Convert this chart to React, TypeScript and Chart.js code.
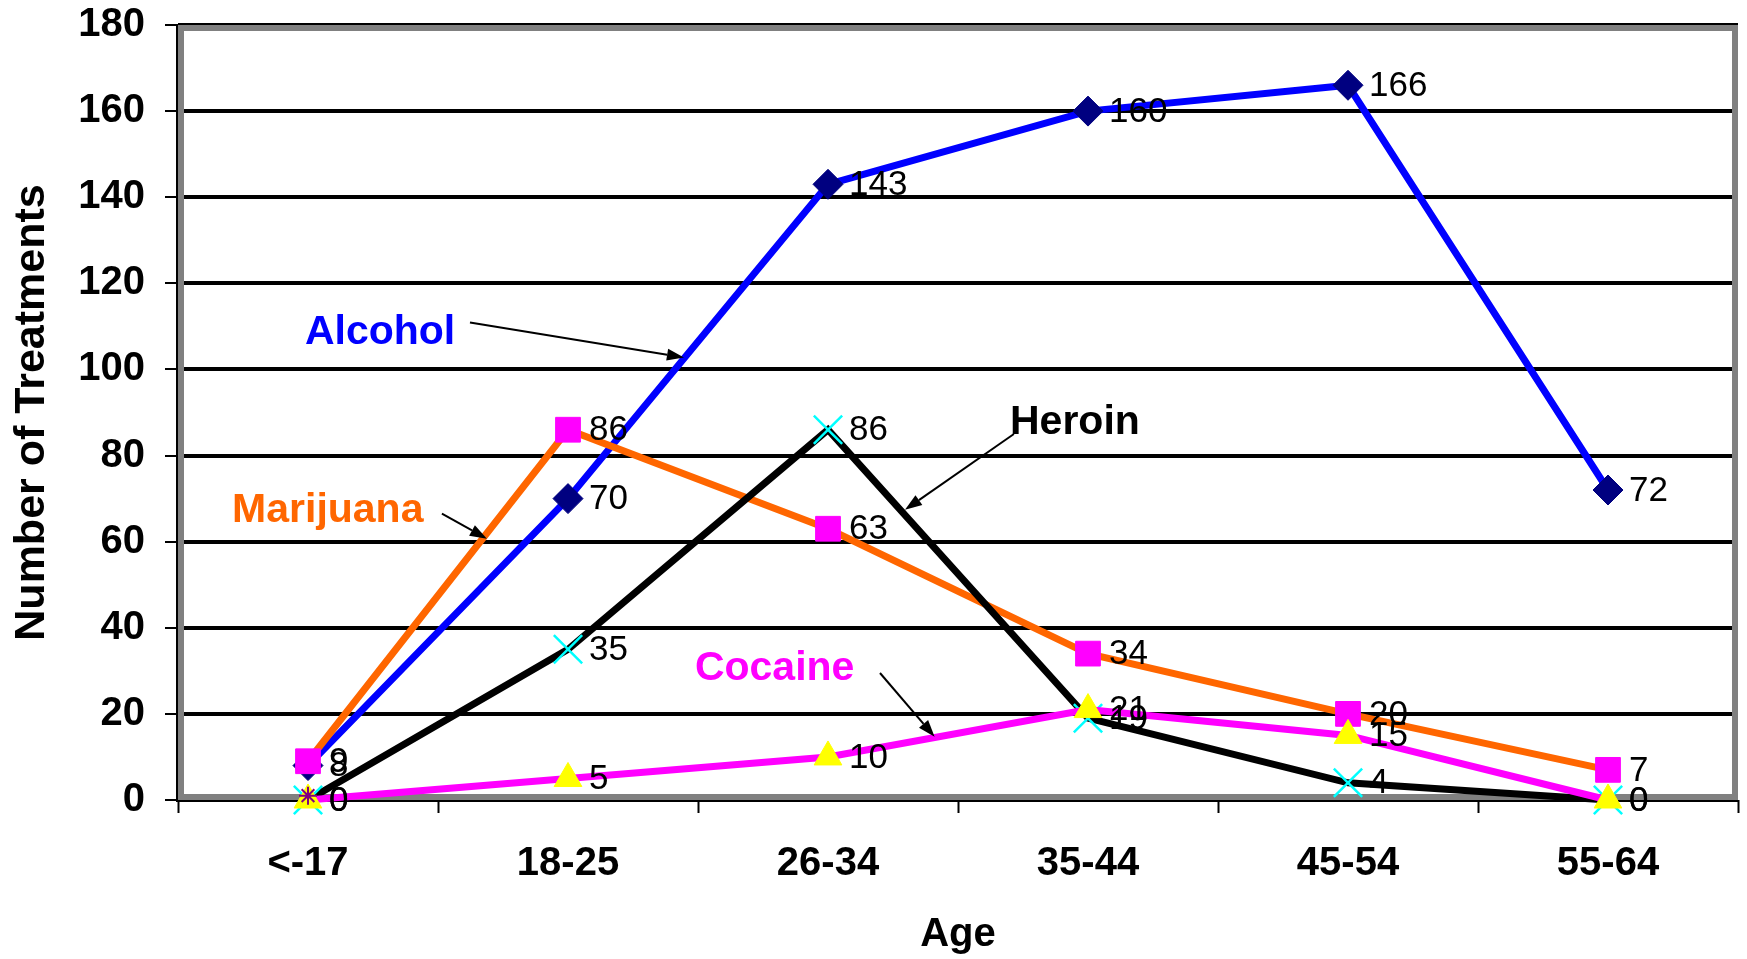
import React, { useEffect, useRef } from "react";
import { Chart, registerables } from "chart.js";

Chart.register(...registerables);

// ---- data ----
const ageGroups = ["<-17", "18-25", "26-34", "35-44", "45-54", "55-64"];
const alcohol = [8, 70, 143, 160, 166, 72];
const marijuana = [9, 86, 63, 34, 20, 7];
const heroin = [0, 35, 86, 19, 4, 0];
const cocaine = [0, 5, 10, 21, 15, 0];
const other: (number | null)[] = [1, null, null, null, null, null];
const yMin = 0;
const yMax = 180;
const yStep = 20;
const xTitle = "Age";
const yTitle = "Number of Treatments";

// annotation callouts (data coordinates: category index, value)
const calloutNames = ["Alcohol", "Marijuana", "Heroin", "Cocaine"];
const calloutColors = ["#0000FF", "#FF6600", "#000000", "#FF00FF"];
const calloutTextAt = [
  [-0.012, 108.6],
  [-0.292, 67.2],
  [2.7, 87.6],
  [1.488, 30.5],
];
const calloutArrowFrom = [
  [0.623, 110.9],
  [0.515, 66.5],
  [2.715, 85],
  [2.2, 29.5],
];
const calloutArrowTo = [
  [1.446, 102.8],
  [0.688, 60.7],
  [2.296, 67.4],
  [2.41, 14.7],
];

const SANS = "'Liberation Sans', Arial, Helvetica, sans-serif";

const framePlugin = {
  id: "frame",
  beforeDatasetsDraw(chart: any) {
    const { ctx, chartArea: a } = chart;
    ctx.save();
    ctx.strokeStyle = "#808080";
    ctx.lineWidth = 6;
    ctx.strokeRect(a.left + 3, a.top + 3, a.right - a.left - 6, a.bottom - a.top - 6);
    ctx.strokeStyle = "#000000";
    ctx.lineWidth = 2;
    ctx.beginPath();
    ctx.moveTo(a.left - 1, a.top - 1);
    ctx.lineTo(a.left - 1, a.bottom + 1);
    ctx.lineTo(a.right, a.bottom + 1);
    ctx.stroke();
    ctx.restore();
  },
};

const valueLabelPlugin = {
  id: "valueLabels",
  afterDatasetsDraw(chart: any) {
    const { ctx } = chart;
    ctx.save();
    ctx.font = `35px ${SANS}`;
    ctx.fillStyle = "#000000";
    ctx.textAlign = "left";
    ctx.textBaseline = "middle";
    chart.data.datasets.forEach((ds: any, i: number) => {
      if (!ds.showValues) return;
      const meta = chart.getDatasetMeta(i);
      meta.data.forEach((el: any, j: number) => {
        const v = ds.data[j];
        if (v === null || v === undefined) return;
        ctx.fillText(String(v), el.x + 21, el.y + 1);
      });
    });
    ctx.restore();
  },
};

const calloutPlugin = {
  id: "callouts",
  afterDraw(chart: any) {
    const { ctx, scales } = chart;
    const xs = scales.x;
    const ys = scales.y;
    ctx.save();
    calloutNames.forEach((name, i) => {
      const tx = xs.getPixelForValue(calloutTextAt[i][0]);
      const ty = ys.getPixelForValue(calloutTextAt[i][1]);
      ctx.font = `bold 41px ${SANS}`;
      ctx.fillStyle = calloutColors[i];
      ctx.textAlign = "left";
      ctx.textBaseline = "middle";
      ctx.fillText(name, tx, ty);

      const x1 = xs.getPixelForValue(calloutArrowFrom[i][0]);
      const y1 = ys.getPixelForValue(calloutArrowFrom[i][1]);
      const x2 = xs.getPixelForValue(calloutArrowTo[i][0]);
      const y2 = ys.getPixelForValue(calloutArrowTo[i][1]);
      const ang = Math.atan2(y2 - y1, x2 - x1);
      const headLen = 17;
      const headHalf = 6;
      const bx = x2 - headLen * Math.cos(ang);
      const by = y2 - headLen * Math.sin(ang);
      ctx.strokeStyle = "#000000";
      ctx.fillStyle = "#000000";
      ctx.lineWidth = 2;
      ctx.beginPath();
      ctx.moveTo(x1, y1);
      ctx.lineTo(bx, by);
      ctx.stroke();
      ctx.beginPath();
      ctx.moveTo(x2, y2);
      ctx.lineTo(bx + headHalf * Math.sin(ang), by - headHalf * Math.cos(ang));
      ctx.lineTo(bx - headHalf * Math.sin(ang), by + headHalf * Math.cos(ang));
      ctx.closePath();
      ctx.fill();
    });
    ctx.restore();
  },
};

export default function App() {
  const ref = useRef<HTMLCanvasElement | null>(null);

  useEffect(() => {
    if (!ref.current) return;
    const chart = new Chart(ref.current, {
      type: "line",
      data: {
        labels: ageGroups,
        datasets: [
          {
            label: "Alcohol",
            data: alcohol,
            borderColor: "#0000FF",
            borderWidth: 7,
            pointStyle: "rectRot",
            pointRadius: 15,
            pointBackgroundColor: "#000080",
            pointBorderColor: "#000080",
            pointBorderWidth: 1,
            tension: 0,
            order: 5,
            clip: false,
            showValues: true,
          } as any,
          {
            label: "Marijuana",
            data: marijuana,
            borderColor: "#FF6600",
            borderWidth: 7,
            pointStyle: "rect",
            pointRadius: 17.5,
            pointBackgroundColor: "#FF00FF",
            pointBorderColor: "#FF00FF",
            pointBorderWidth: 1,
            tension: 0,
            order: 4,
            clip: false,
            showValues: true,
          } as any,
          {
            label: "Heroin",
            data: heroin,
            borderColor: "#000000",
            borderWidth: 7,
            pointStyle: "crossRot",
            pointRadius: 20,
            pointBackgroundColor: "#00FFFF",
            pointBorderColor: "#00FFFF",
            pointBorderWidth: 2.5,
            tension: 0,
            order: 3,
            clip: false,
            showValues: true,
          } as any,
          {
            label: "Cocaine",
            data: cocaine,
            borderColor: "#FF00FF",
            borderWidth: 7,
            pointStyle: "triangle",
            pointRadius: 16,
            pointBackgroundColor: "#FFFF00",
            pointBorderColor: "#FFFF00",
            pointBorderWidth: 1,
            tension: 0,
            order: 2,
            clip: false,
            showValues: true,
          } as any,
          {
            label: "Other",
            data: other,
            showLine: false,
            borderColor: "#800080",
            pointStyle: "star",
            pointRadius: 9,
            pointBackgroundColor: "#800080",
            pointBorderColor: "#800080",
            pointBorderWidth: 2,
            order: 1,
            clip: false,
            showValues: false,
          } as any,
        ],
      },
      options: {
        responsive: false,
        animation: false,
        devicePixelRatio: 1,
        layout: { autoPadding: false, padding: { top: 25, right: 9, bottom: 0, left: 0 } },
        plugins: {
          legend: { display: false },
          tooltip: { enabled: false },
          title: { display: false },
        },
        scales: {
          x: {
            type: "category",
            offset: true,
            border: { display: false },
            grid: {
              offset: true,
              drawOnChartArea: false,
              drawTicks: true,
              tickLength: 13,
              tickColor: "#000000",
              tickWidth: 2,
              color: "#000000",
            },
            ticks: {
              color: "#000000",
              font: { family: SANS, size: 40, weight: "bold" },
              padding: 27,
              maxRotation: 0,
              autoSkip: false,
            },
            title: {
              display: true,
              text: xTitle,
              color: "#000000",
              font: { family: SANS, size: 40, weight: "bold" },
              padding: { top: 0, bottom: 0 },
            },
            afterFit(scale: any) {
              scale.height = 159;
              scale.paddingLeft = 0;
              scale.paddingRight = 0;
            },
          },
          y: {
            min: yMin,
            max: yMax,
            border: { display: false },
            grid: {
              color: "#000000",
              lineWidth: 4,
              drawTicks: true,
              tickLength: 13,
              tickColor: "#000000",
              tickWidth: 2,
            },
            ticks: {
              stepSize: yStep,
              color: "#000000",
              font: { family: SANS, size: 40, weight: "bold" },
              padding: 20,
            },
            title: {
              display: true,
              text: yTitle,
              color: "#000000",
              font: { family: SANS, size: 43, weight: "bold" },
              padding: { top: 6, bottom: 0 },
            },
            afterFit(scale: any) {
              scale.width = 178;
              scale.paddingTop = 0;
              scale.paddingBottom = 0;
            },
          },
        },
      },
      plugins: [framePlugin, valueLabelPlugin, calloutPlugin],
    });
    return () => chart.destroy();
  }, []);

  return (
    <div style={{ position: "absolute", left: 0, top: 0, width: 1747, height: 959, background: "#ffffff" }}>
      <canvas ref={ref} width={1747} height={959} style={{ display: "block" }} />
    </div>
  );
}
